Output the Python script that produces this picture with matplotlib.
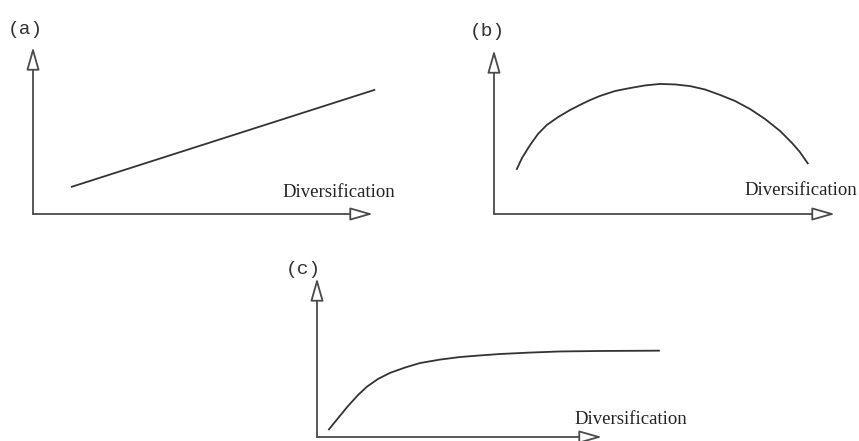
import matplotlib.pyplot as plt

W, H = 859, 441

# panel (a): linear increase
a_x = [0.114, 1.004]
a_y = [0.163, 0.743]

# panel (b): hump shaped
b_x = [0.067, 0.082, 0.106, 0.129, 0.155, 0.188, 0.223, 0.252, 0.282, 0.311, 0.355,
       0.399, 0.443, 0.487, 0.531, 0.575, 0.619, 0.663, 0.707, 0.751, 0.795, 0.839,
       0.874, 0.897, 0.920]
b_y = [0.274, 0.341, 0.421, 0.488, 0.543, 0.591, 0.634, 0.665, 0.695, 0.720, 0.750,
       0.768, 0.784, 0.793, 0.790, 0.780, 0.759, 0.726, 0.689, 0.640, 0.579, 0.506,
       0.433, 0.378, 0.309]

# panel (c): saturating
c_x = [0.042, 0.074, 0.109, 0.144, 0.175, 0.214, 0.256, 0.309, 0.361, 0.432, 0.502,
       0.572, 0.642, 0.747, 0.853, 0.993, 1.098, 1.200]
c_y = [0.048, 0.119, 0.195, 0.264, 0.316, 0.365, 0.403, 0.437, 0.465, 0.487, 0.503,
       0.513, 0.522, 0.531, 0.538, 0.541, 0.542, 0.543]

labels = ['(a)', '(b)', '(c)']
xlabel = 'Diversification'

AXCOL = '#4a4a4a'
LINECOL = '#333333'


def px_axes(fig, x0, y0, x1, y1):
    # origin (x0,y0) and arrow tips (x1,y1) in pixels, y measured from top
    return fig.add_axes([x0 / W, (H - y0) / H, (x1 - x0) / W, (y0 - y1) / H])


def draw_arrows(ax):
    kw = dict(arrowstyle='-|>,head_length=1.4,head_width=0.4', fc='white',
              ec=AXCOL, lw=1.3, shrinkA=0, shrinkB=0, mutation_scale=10)
    ax.annotate('', xy=(1, 0), xytext=(0, 0), xycoords='axes fraction',
                arrowprops=kw, annotation_clip=False)
    ax.annotate('', xy=(0, 1), xytext=(0, 0), xycoords='axes fraction',
                arrowprops=kw, annotation_clip=False)
    ax.set_xlim(0, 1)
    ax.set_ylim(0, 1)
    ax.set_axis_off()


fig = plt.figure(figsize=(W / 100, H / 100), dpi=100)

ax_a = px_axes(fig, 33, 214, 373, 47)
ax_a.plot(a_x, a_y, color=LINECOL, lw=1.3, clip_on=False)
draw_arrows(ax_a)

ax_b = px_axes(fig, 494, 214, 835, 50)
ax_b.plot(b_x, b_y, color=LINECOL, lw=1.3, clip_on=False, solid_joinstyle='round')
draw_arrows(ax_b)

ax_c = px_axes(fig, 317, 437, 602, 278)
ax_c.plot(c_x, c_y, color=LINECOL, lw=1.3, clip_on=False, solid_joinstyle='round')
draw_arrows(ax_c)

mono = dict(family='Liberation Mono', size=14, color='#333333', va='center', ha='left')
fig.text(8 / W, 1 - 29 / H, labels[0], **mono)
fig.text(470 / W, 1 - 31 / H, labels[1], **mono)
fig.text(286 / W, 1 - 270 / H, labels[2], **mono)

serif = dict(family='Liberation Serif', size=13.5, color='#222222', va='baseline', ha='left')
fig.text(282.7 / W, 1 - 197.3 / H, xlabel, **serif)
fig.text(744 / W, 1 - 195 / H, xlabel, **serif)
fig.text(574 / W, 1 - 424.3 / H, xlabel, **serif)

fig.savefig('out.png', dpi=100)
